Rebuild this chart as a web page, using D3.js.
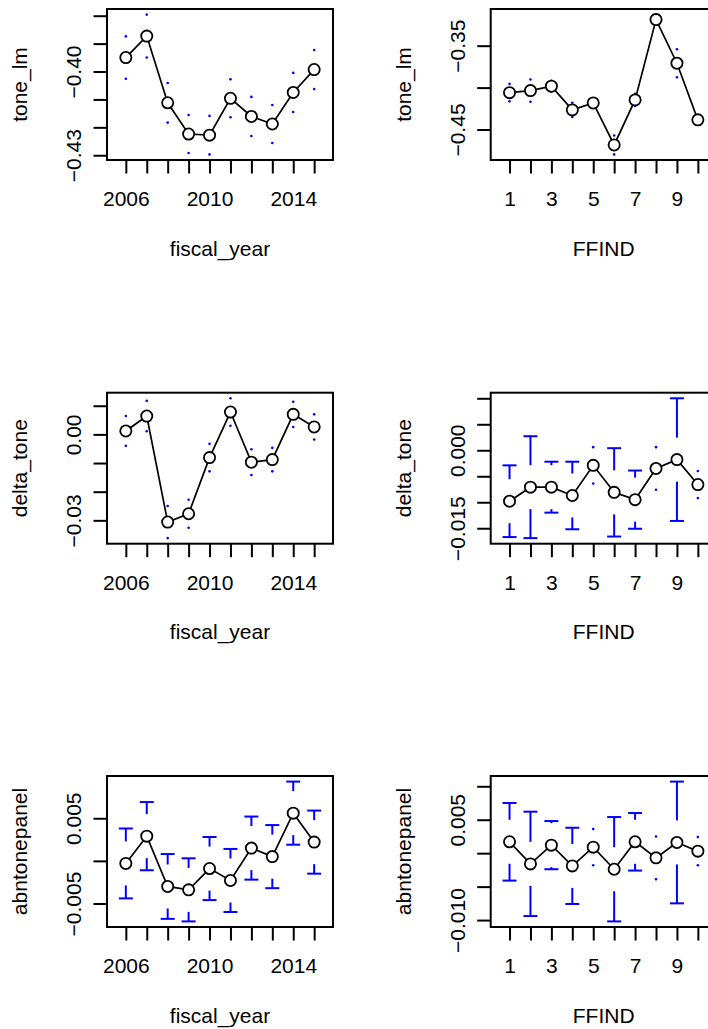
<!DOCTYPE html>
<head>
    <meta charset="utf-8">
    <title>plotmeans grid</title>
    <script src="https://cdn.jsdelivr.net/npm/d3@7"></script>
</head>

<body style="margin:0;background:#fff">

<div id="container"></div>

<script type="text/javascript">
    // categories
    const years = ["2006", "2007", "2008", "2009", "2010", "2011", "2012", "2013", "2014", "2015"];
    const ffind = ["1", "2", "3", "4", "5", "6", "7", "8", "9", "10"];
    // which category labels R managed to print
    const yearLabelShown = [1, 0, 0, 0, 1, 0, 0, 0, 1, 0];
    const ffindLabelShown = [1, 0, 1, 0, 1, 0, 1, 0, 1, 0];

    // means and confidence half-widths
    const toneYearMean = [-0.3950, -0.3873, -0.4112, -0.4224, -0.4228, -0.4096, -0.4161, -0.4188, -0.4075, -0.3993];
    const toneYearCI = [0.0076, 0.0077, 0.0071, 0.0068, 0.0069, 0.0068, 0.0070, 0.0068, 0.0070, 0.0070];
    const toneIndMean = [-0.4060, -0.4036, -0.3983, -0.4266, -0.4183, -0.4684, -0.4147, -0.3189, -0.3709, -0.4385];
    const toneIndCI = [0.0104, 0.0133, 0.0064, 0.0084, 0.0030, 0.0113, 0.0072, 0.0060, 0.0167, 0.0040];
    const deltaYearMean = [0.0012, 0.0064, -0.0306, -0.0277, -0.0081, 0.0078, -0.0097, -0.0088, 0.0070, 0.0026];
    const deltaYearCI = [0.0052, 0.0053, 0.0056, 0.0049, 0.0048, 0.0048, 0.0045, 0.0041, 0.0044, 0.0044];
    const deltaIndMean = [-0.0098, -0.0071, -0.0071, -0.0087, -0.0029, -0.0081, -0.0095, -0.0035, -0.0018, -0.0066];
    const deltaIndCI = [0.0069, 0.0098, 0.0049, 0.0065, 0.0035, 0.0085, 0.0056, 0.0041, 0.0118, 0.0026];
    const abnYearMean = [-0.0003, 0.0029, -0.0030, -0.0034, -0.0009, -0.0023, 0.0015, 0.0005, 0.0056, 0.0022];
    const abnYearCI = [0.0041, 0.0040, 0.0038, 0.0037, 0.0037, 0.0037, 0.0037, 0.0037, 0.0037, 0.0037];
    const abnIndMean = [0.0017, -0.0016, 0.0012, -0.0019, 0.0009, -0.0024, 0.0017, -0.0007, 0.0016, 0.0003];
    const abnIndCI = [0.0058, 0.0078, 0.0036, 0.0057, 0.0027, 0.0078, 0.0043, 0.0032, 0.0091, 0.0021];

    // y ticks and the labels that show
    const toneYearTicks = [-0.43, -0.42, -0.41, -0.40, -0.39, -0.38];
    const toneYearTickLabels = ["−0.43", "", "", "−0.40", "", ""];
    const toneIndTicks = [-0.45, -0.40, -0.35];
    const toneIndTickLabels = ["−0.45", "", "−0.35"];
    const deltaYearTicks = [-0.03, -0.02, -0.01, 0.00, 0.01];
    const deltaYearTickLabels = ["−0.03", "", "", "0.00", ""];
    const deltaIndTicks = [-0.015, -0.010, -0.005, 0.000, 0.005, 0.010];
    const deltaIndTickLabels = ["−0.015", "", "", "0.000", "", ""];
    const abnYearTicks = [-0.005, 0.000, 0.005];
    const abnYearTickLabels = ["−0.005", "", "0.005"];
    const abnIndTicks = [-0.010, -0.005, 0.000, 0.005, 0.010];
    const abnIndTickLabels = ["−0.010", "", "", "0.005", ""];

    const panels = [
        {row: 0, col: 0, yName: "tone_lm", xName: "fiscal_year", cats: years, shown: yearLabelShown, mean: toneYearMean, ci: toneYearCI, ticks: toneYearTicks, tickLabels: toneYearTickLabels},
        {row: 0, col: 1, yName: "tone_lm", xName: "FFIND", cats: ffind, shown: ffindLabelShown, mean: toneIndMean, ci: toneIndCI, ticks: toneIndTicks, tickLabels: toneIndTickLabels},
        {row: 1, col: 0, yName: "delta_tone", xName: "fiscal_year", cats: years, shown: yearLabelShown, mean: deltaYearMean, ci: deltaYearCI, ticks: deltaYearTicks, tickLabels: deltaYearTickLabels},
        {row: 1, col: 1, yName: "delta_tone", xName: "FFIND", cats: ffind, shown: ffindLabelShown, mean: deltaIndMean, ci: deltaIndCI, ticks: deltaIndTicks, tickLabels: deltaIndTickLabels},
        {row: 2, col: 0, yName: "abntonepanel", xName: "fiscal_year", cats: years, shown: yearLabelShown, mean: abnYearMean, ci: abnYearCI, ticks: abnYearTicks, tickLabels: abnYearTickLabels},
        {row: 2, col: 1, yName: "abntonepanel", xName: "FFIND", cats: ffind, shown: ffindLabelShown, mean: abnIndMean, ci: abnIndCI, ticks: abnIndTicks, tickLabels: abnIndTickLabels}
    ];

    // layout (plot boxes)
    const colX = [107, 490.7],
        rowY = [9, 392.7, 776],
        plotW = 226,
        plotH = 151;
    const gap = 22,       // gap left around each mean by the CI bars
        capHalf = 7,
        tickLen = 13.5,
        font = "'Liberation Sans', Arial, Helvetica, sans-serif",
        fontSize = 21,
        blue = "#0000ff";

    const svg = d3.select("#container")
        .append("svg")
        .attr("width", 708)
        .attr("height", 1029)
        .style("display", "block");

    panels.forEach(function (p) {
        const g = svg.append("g")
            .attr("transform", `translate(${colX[p.col]},${rowY[p.row]})`);

        const n = p.cats.length;
        // R style: xlim c(0.5, n+0.5) plus 4% each side
        const x = d3.scaleLinear()
            .domain([0.5 - 0.04 * n, n + 0.5 + 0.04 * n])
            .range([0, plotW]);

        const lo = d3.min(p.mean, (m, i) => m - p.ci[i]);
        const hi = d3.max(p.mean, (m, i) => m + p.ci[i]);
        const pad = (hi - lo) * 0.04;
        const y = d3.scaleLinear()
            .domain([lo - pad, hi + pad])
            .range([plotH, 0]);

        // x axis
        const xAxis = g.append("g")
            .attr("transform", `translate(0,${plotH})`)
            .call(d3.axisBottom(x)
                .tickValues(d3.range(1, n + 1))
                .tickSize(tickLen)
                .tickSizeOuter(0)
                .tickFormat(d => p.shown[d - 1] ? p.cats[d - 1] : ""));
        xAxis.select(".domain").remove();
        xAxis.selectAll("line").attr("stroke", "#000").attr("stroke-width", 2);
        xAxis.selectAll("text")
            .attr("y", 46.4)
            .attr("dy", 0)
            .attr("fill", "#000")
            .style("font-family", font)
            .style("font-size", fontSize + "px");

        // y axis
        const yAxis = g.append("g")
            .call(d3.axisLeft(y)
                .tickValues(p.ticks)
                .tickSize(tickLen)
                .tickSizeOuter(0)
                .tickFormat((d, i) => p.tickLabels[i]));
        yAxis.select(".domain").remove();
        yAxis.selectAll("line").attr("stroke", "#000").attr("stroke-width", 2);
        yAxis.selectAll("text")
            .attr("x", null)
            .attr("dy", 0)
            .attr("transform", "translate(-26,0) rotate(-90)")
            .attr("text-anchor", "middle")
            .attr("fill", "#000")
            .style("font-family", font)
            .style("font-size", fontSize + "px");

        // axis titles
        g.append("text")
            .attr("x", plotW / 2)
            .attr("y", plotH + 95.8)
            .attr("text-anchor", "middle")
            .style("font-family", font)
            .style("font-size", fontSize + "px")
            .text(p.xName);
        g.append("text")
            .attr("transform", `translate(-80,${plotH / 2}) rotate(-90)`)
            .attr("text-anchor", "middle")
            .style("font-family", font)
            .style("font-size", fontSize + "px")
            .text(p.yName);

        // confidence bars, with a gap round the mean
        p.mean.forEach(function (m, i) {
            const cx = x(i + 1),
                cy = y(m);
            [m + p.ci[i], m - p.ci[i]].forEach(function (end, k) {
                const ey = y(end);
                const dir = k === 0 ? -1 : 1;
                if (Math.abs(ey - cy) > gap) {
                    g.append("line")
                        .attr("x1", cx).attr("x2", cx)
                        .attr("y1", cy + dir * gap).attr("y2", ey)
                        .attr("stroke", blue).attr("stroke-width", 2);
                    g.append("line")
                        .attr("x1", cx - capHalf).attr("x2", cx + capHalf)
                        .attr("y1", ey).attr("y2", ey)
                        .attr("stroke", blue).attr("stroke-width", 2);
                } else {
                    g.append("circle")
                        .attr("cx", cx).attr("cy", ey)
                        .attr("r", 1.3)
                        .attr("fill", blue);
                }
            });
        });

        // connecting line + means
        g.append("path")
            .datum(p.mean)
            .attr("d", d3.line().x((d, i) => x(i + 1)).y(d => y(d)))
            .attr("fill", "none")
            .attr("stroke", "#000")
            .attr("stroke-width", 1.7);
        g.selectAll(".pt")
            .data(p.mean)
            .join("circle")
            .attr("class", "pt")
            .attr("cx", (d, i) => x(i + 1))
            .attr("cy", d => y(d))
            .attr("r", 5.6)
            .attr("fill", "#fff")
            .attr("stroke", "#000")
            .attr("stroke-width", 1.8);

        // plot box
        g.append("rect")
            .attr("width", plotW)
            .attr("height", plotH)
            .attr("fill", "none")
            .attr("stroke", "#000")
            .attr("stroke-width", 2);
    });
</script>
</body>
